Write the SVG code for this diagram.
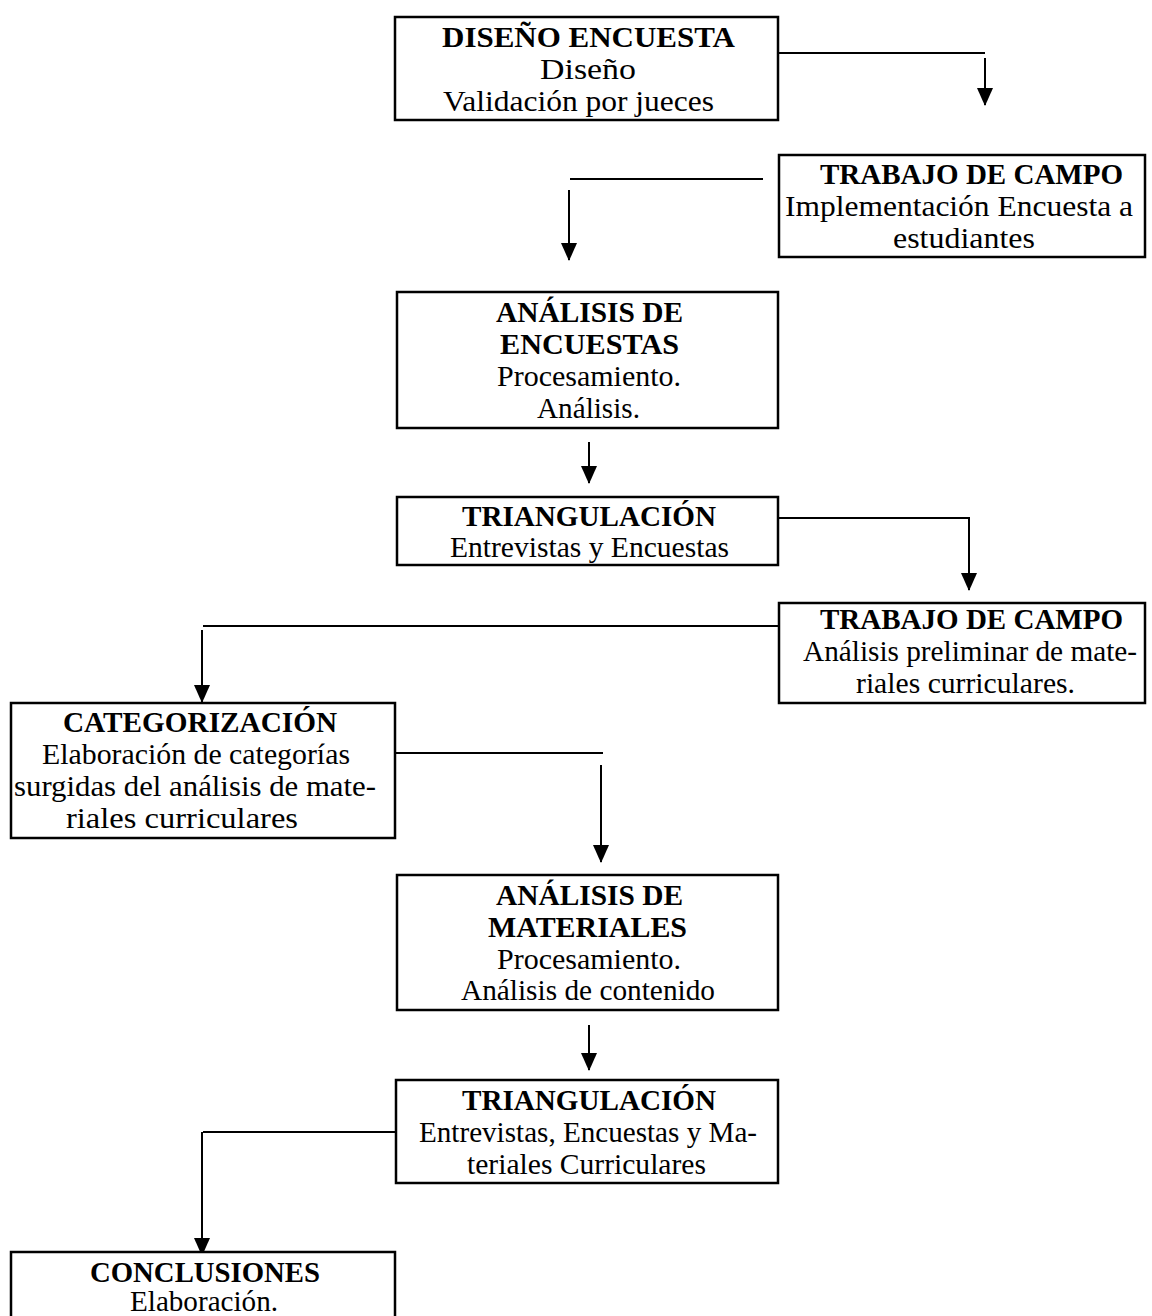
<svg xmlns="http://www.w3.org/2000/svg" width="1152" height="1316" viewBox="0 0 1152 1316">
<defs>
<style>
.box{fill:#fff;stroke:#000;stroke-width:2.5}
.t{font-family:"Liberation Serif","Times New Roman",serif;font-size:29.5px;fill:#000;text-anchor:middle}
.b{font-weight:bold}
.c{stroke:#000;stroke-width:2;fill:none}
</style>
<marker id="ah" markerUnits="userSpaceOnUse" markerWidth="18" markerHeight="16" refX="17" refY="8" orient="auto" viewBox="0 0 18 16">
<path d="M0,0 L18,8 L0,16 Z" fill="#000"/>
</marker>
</defs>
<rect width="1152" height="1316" fill="#fff"/>
<g id="connectors">
<line class="c" x1="778" y1="53" x2="985" y2="53"/>
<path class="c" d="M985,58 V105" marker-end="url(#ah)"/>
<line class="c" x1="570" y1="179" x2="763" y2="179"/>
<path class="c" d="M569,190 V260" marker-end="url(#ah)"/>
<path class="c" d="M589,442 V483" marker-end="url(#ah)"/>
<line class="c" x1="778" y1="518" x2="970" y2="518"/>
<path class="c" d="M969,518 V590" marker-end="url(#ah)"/>
<line class="c" x1="203" y1="626" x2="779" y2="626"/>
<path class="c" d="M202,630 V702" marker-end="url(#ah)"/>
<line class="c" x1="395" y1="753" x2="603" y2="753"/>
<path class="c" d="M601,765 V862" marker-end="url(#ah)"/>
<path class="c" d="M589,1025 V1070" marker-end="url(#ah)"/>
<line class="c" x1="203" y1="1132" x2="396" y2="1132"/>
<path class="c" d="M202,1132 V1255" marker-end="url(#ah)"/>
</g>
<g id="n1">
<rect class="box" x="395" y="17" width="383" height="103"/>
<text class="t b" x="588.5" y="47" textLength="293" lengthAdjust="spacingAndGlyphs">DISEÑO ENCUESTA</text>
<text class="t" x="588" y="79" textLength="96" lengthAdjust="spacingAndGlyphs">Diseño</text>
<text class="t" x="578.5" y="111" textLength="271" lengthAdjust="spacingAndGlyphs">Validación por jueces</text>
</g>
<g id="n2">
<rect class="box" x="779" y="155" width="366" height="102"/>
<text class="t b" x="971.5" y="184" textLength="303" lengthAdjust="spacingAndGlyphs">TRABAJO DE CAMPO</text>
<text class="t" x="959" y="216" textLength="348" lengthAdjust="spacingAndGlyphs">Implementación Encuesta a</text>
<text class="t" x="964" y="248" textLength="142" lengthAdjust="spacingAndGlyphs">estudiantes</text>
</g>
<g id="n3">
<rect class="box" x="397" y="292" width="381" height="136"/>
<text class="t b" x="589.5" y="322" textLength="187" lengthAdjust="spacingAndGlyphs">ANÁLISIS DE</text>
<text class="t b" x="589.5" y="354" textLength="179" lengthAdjust="spacingAndGlyphs">ENCUESTAS</text>
<text class="t" x="589" y="386" textLength="184" lengthAdjust="spacingAndGlyphs">Procesamiento.</text>
<text class="t" x="588.5" y="418" textLength="103" lengthAdjust="spacingAndGlyphs">Análisis.</text>
</g>
<g id="n4">
<rect class="box" x="397" y="497" width="381" height="68"/>
<text class="t b" x="589" y="526" textLength="254" lengthAdjust="spacingAndGlyphs">TRIANGULACIÓN</text>
<text class="t" x="589.5" y="557" textLength="279" lengthAdjust="spacingAndGlyphs">Entrevistas y Encuestas</text>
</g>
<g id="n5">
<rect class="box" x="779" y="603" width="366" height="100"/>
<text class="t b" x="971.5" y="629" textLength="303" lengthAdjust="spacingAndGlyphs">TRABAJO DE CAMPO</text>
<text class="t" x="970" y="661" textLength="334" lengthAdjust="spacingAndGlyphs">Análisis preliminar de mate-</text>
<text class="t" x="965.5" y="693" textLength="219" lengthAdjust="spacingAndGlyphs">riales curriculares.</text>
</g>
<g id="n6">
<rect class="box" x="11" y="703" width="384" height="135"/>
<text class="t b" x="200" y="732" textLength="274" lengthAdjust="spacingAndGlyphs">CATEGORIZACIÓN</text>
<text class="t" x="196" y="764" textLength="308" lengthAdjust="spacingAndGlyphs">Elaboración de categorías</text>
<text class="t" x="195" y="796" textLength="362" lengthAdjust="spacingAndGlyphs">surgidas del análisis de mate-</text>
<text class="t" x="182" y="828" textLength="232" lengthAdjust="spacingAndGlyphs">riales curriculares</text>
</g>
<g id="n7">
<rect class="box" x="397" y="875" width="381" height="135"/>
<text class="t b" x="589.5" y="905" textLength="187" lengthAdjust="spacingAndGlyphs">ANÁLISIS DE</text>
<text class="t b" x="587.5" y="937" textLength="199" lengthAdjust="spacingAndGlyphs">MATERIALES</text>
<text class="t" x="589" y="969" textLength="184" lengthAdjust="spacingAndGlyphs">Procesamiento.</text>
<text class="t" x="588" y="1000" textLength="254" lengthAdjust="spacingAndGlyphs">Análisis de contenido</text>
</g>
<g id="n8">
<rect class="box" x="396" y="1080" width="382" height="103"/>
<text class="t b" x="589" y="1110" textLength="254" lengthAdjust="spacingAndGlyphs">TRIANGULACIÓN</text>
<text class="t" x="588" y="1142" textLength="338" lengthAdjust="spacingAndGlyphs">Entrevistas, Encuestas y Ma-</text>
<text class="t" x="586.5" y="1174" textLength="239" lengthAdjust="spacingAndGlyphs">teriales Curriculares</text>
</g>
<g id="n9">
<rect class="box" x="11" y="1252" width="384" height="100"/>
<text class="t b" x="205" y="1282" textLength="230" lengthAdjust="spacingAndGlyphs">CONCLUSIONES</text>
<text class="t" x="204" y="1311" textLength="148" lengthAdjust="spacingAndGlyphs">Elaboración.</text>
</g>
</svg>
